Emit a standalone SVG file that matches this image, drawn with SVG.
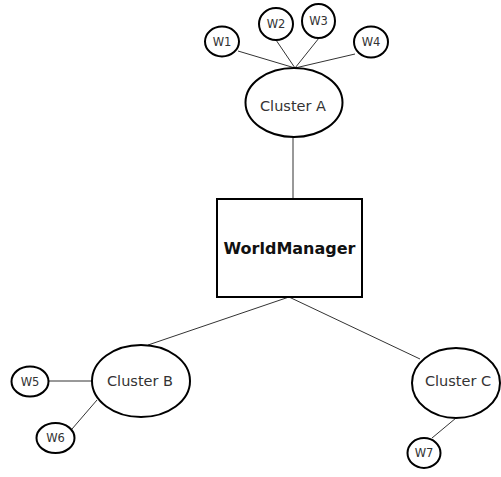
<svg xmlns="http://www.w3.org/2000/svg" width="501" height="477" viewBox="0 0 501 477">
  <style>
    .node { fill: #ffffff; stroke: #000000; stroke-width: 2; }
    .edge { stroke: #333333; stroke-width: 1; fill: none; }
    .lbl { font-family: "DejaVu Sans", sans-serif; fill: #333333; text-anchor: middle; }
    .cl { font-size: 14.5px; }
    .w { font-size: 11.5px; }
    .mgr { font-family: "DejaVu Sans", sans-serif; font-weight: bold; font-size: 16px; fill: #111111; text-anchor: middle; }
  </style>
  <rect width="501" height="477" fill="#ffffff"/>

  <g id="connectors">
    <line class="edge" x1="238" y1="51" x2="295" y2="68"/>
    <line class="edge" x1="276" y1="40" x2="295" y2="68"/>
    <line class="edge" x1="319" y1="38" x2="295" y2="68"/>
    <line class="edge" x1="355" y1="54" x2="295" y2="68"/>
    <line class="edge" x1="293" y1="137" x2="293" y2="199"/>
    <line class="edge" x1="289" y1="297" x2="148" y2="345"/>
    <line class="edge" x1="289" y1="297" x2="420" y2="359"/>
    <line class="edge" x1="48" y1="381" x2="92" y2="381"/>
    <line class="edge" x1="72" y1="429" x2="97" y2="400"/>
    <line class="edge" x1="432" y1="438" x2="456" y2="418"/>
  </g>

  <g id="worldmanager">
    <rect class="node" x="217" y="199" width="145" height="98"/>
    <text class="mgr" x="289.5" y="254">WorldManager</text>
  </g>

  <g id="cluster-a">
    <ellipse class="node" cx="294" cy="102.5" rx="48.5" ry="34.5"/>
    <text class="lbl cl" x="293" y="111">Cluster A</text>
  </g>
  <g id="cluster-b">
    <ellipse class="node" cx="141" cy="381" rx="49" ry="36"/>
    <text class="lbl cl" x="140" y="386">Cluster B</text>
  </g>
  <g id="cluster-c">
    <ellipse class="node" cx="456" cy="383" rx="44" ry="35"/>
    <text class="lbl cl" x="458" y="386">Cluster C</text>
  </g>

  <g id="w1">
    <ellipse class="node" cx="222" cy="41.5" rx="17" ry="15"/>
    <text class="lbl w" x="222" y="45.5">W1</text>
  </g>
  <g id="w2">
    <ellipse class="node" cx="276" cy="24" rx="17" ry="16"/>
    <text class="lbl w" x="276" y="28">W2</text>
  </g>
  <g id="w3">
    <ellipse class="node" cx="318.5" cy="21" rx="16.5" ry="17"/>
    <text class="lbl w" x="318.5" y="25">W3</text>
  </g>
  <g id="w4">
    <ellipse class="node" cx="371" cy="42" rx="17" ry="15.5"/>
    <text class="lbl w" x="371" y="46">W4</text>
  </g>
  <g id="w5">
    <ellipse class="node" cx="30" cy="381.5" rx="18.5" ry="15"/>
    <text class="lbl w" x="30" y="385.5">W5</text>
  </g>
  <g id="w6">
    <ellipse class="node" cx="55.5" cy="438" rx="19" ry="15"/>
    <text class="lbl w" x="55.5" y="442">W6</text>
  </g>
  <g id="w7">
    <ellipse class="node" cx="424" cy="453" rx="16.5" ry="15"/>
    <text class="lbl w" x="424" y="457">W7</text>
  </g>
</svg>
